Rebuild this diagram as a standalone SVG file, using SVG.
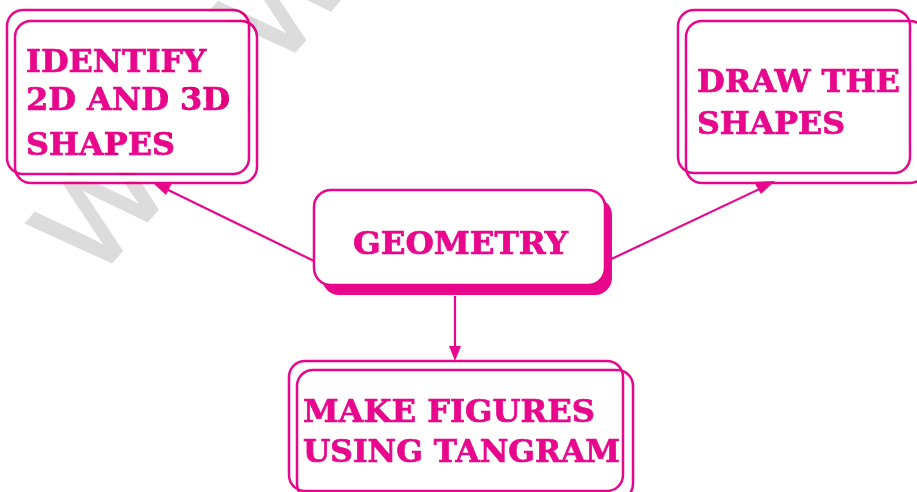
<svg xmlns="http://www.w3.org/2000/svg" xmlns:xlink="http://www.w3.org/1999/xlink" width="917" height="492" viewBox="0 0 917 492">
<defs>
<style>
.frame{fill:none;stroke:#E8078C;stroke-width:2.5}
.fill{fill:#fff;stroke:none}
.box{fill:#fff;stroke:#E8078C;stroke-width:2.5}
.lbl{font-family:"DejaVu Serif","Liberation Serif",serif;font-weight:bold;font-size:31px;fill:#E8078C;stroke:#E8078C;stroke-width:0.7}
.wm{font-family:"Liberation Sans",Arial,sans-serif;font-size:130px;letter-spacing:17px;fill:#dcdcdc;stroke:#dcdcdc;stroke-width:3}
.burn{mix-blend-mode:color-burn}
.conn{stroke:#E8078C;stroke-width:2.2;fill:none}
.head{fill:#E8078C}
</style>
<clipPath id="boxclip"><rect x="7" y="10" width="250" height="173"/></clipPath>
</defs>
<rect width="917" height="492" fill="#fff"/>
<text id="wm" class="wm" transform="translate(94,282) rotate(-49)">WWW.</text>
<g id="connectors">
<line class="conn" x1="314" y1="261" x2="160" y2="186"/>
<path class="head" d="M153,183 L172,183 L166,195 Z"/>
<line class="conn" x1="605" y1="262" x2="768" y2="185"/>
<path class="head" d="M775,181 L754,182 L761,194 Z"/>
<line class="conn" x1="455" y1="296" x2="455" y2="350"/>
<path class="head" d="M455,361 L449,346 L461,346 Z"/>
</g>
<g id="identify">
<rect class="fill" x="7" y="10" width="242" height="164" rx="16"/>
<rect class="fill" x="15" y="21" width="242" height="162" rx="16"/>
<rect class="frame" x="7" y="10" width="242" height="164" rx="16"/>
<rect class="frame" x="15" y="21" width="242" height="162" rx="16"/>
<text class="lbl" x="26" y="72" textLength="180" lengthAdjust="spacingAndGlyphs">IDENTIFY</text>
<text class="lbl" x="26" y="110" textLength="204" lengthAdjust="spacingAndGlyphs">2D AND 3D</text>
<text class="lbl" x="26" y="155" textLength="149" lengthAdjust="spacingAndGlyphs">SHAPES</text>
</g>
<g class="burn" clip-path="url(#boxclip)">
<use xlink:href="#wm" href="#wm"/>
</g>
<g id="draw">
<rect class="frame" x="678" y="10" width="232" height="163" rx="16"/>
<rect class="frame" x="686" y="21" width="240" height="162" rx="16"/>
<text class="lbl" x="697" y="92" textLength="203" lengthAdjust="spacingAndGlyphs">DRAW THE</text>
<text class="lbl" x="697" y="134" textLength="148" lengthAdjust="spacingAndGlyphs">SHAPES</text>
</g>
<g id="geometry">
<rect x="322" y="198" width="290" height="97" rx="17" fill="#E8078C"/>
<rect class="box" x="314" y="190" width="291" height="95" rx="17"/>
<text class="lbl" x="353" y="254" textLength="215" lengthAdjust="spacingAndGlyphs">GEOMETRY</text>
</g>
<g id="tangram">
<rect class="frame" x="289" y="361" width="334" height="130" rx="16"/>
<rect class="frame" x="297" y="370" width="336" height="130" rx="16"/>
<text class="lbl" x="303" y="422" textLength="292" lengthAdjust="spacingAndGlyphs">MAKE FIGURES</text>
<text class="lbl" x="303" y="462" textLength="317" lengthAdjust="spacingAndGlyphs">USING TANGRAM</text>
</g>
</svg>
